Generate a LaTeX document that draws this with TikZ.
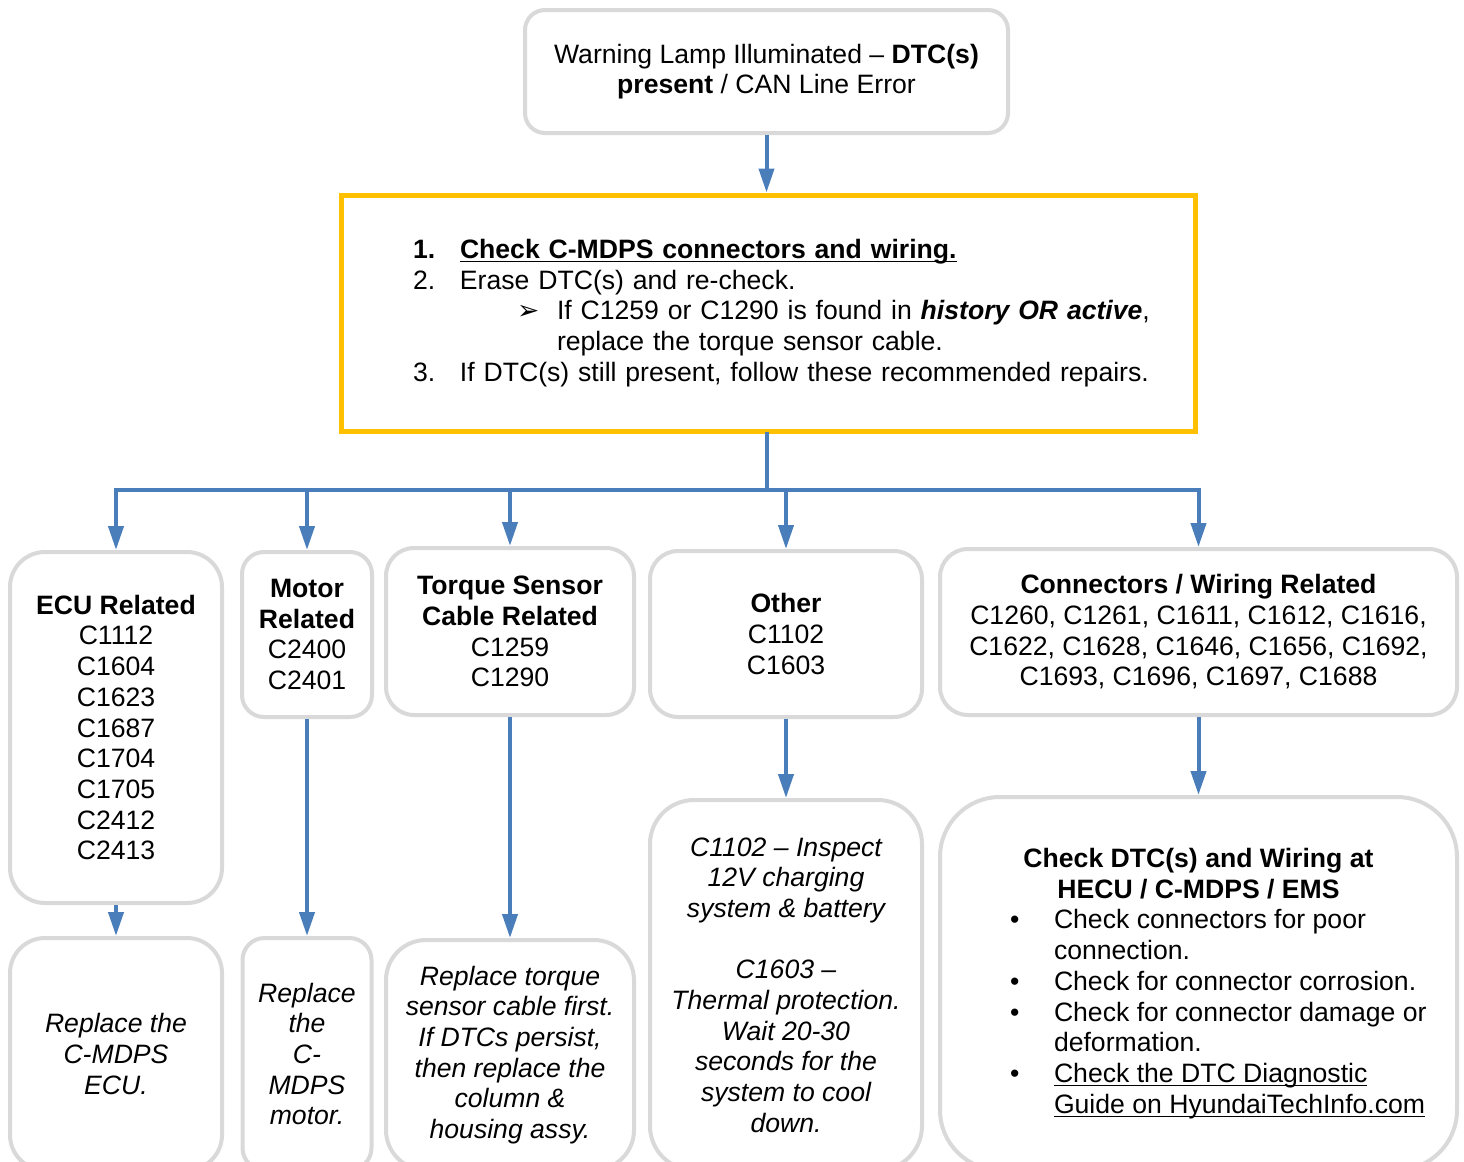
\documentclass[tikz,border=0pt]{standalone}
\usepackage{fontspec}
\setmainfont{Liberation Sans}
\newfontfamily\symfont{DejaVu Sans}
\usepackage{tikz}
\usetikzlibrary{positioning, arrows.meta}
\definecolor{box_gray}{RGB}{217,217,217}
\definecolor{lamp_yellow}{RGB}{255,192,0}
\definecolor{line_blue}{RGB}{74,126,187}
\newcommand\undl[1]{\setbox0\hbox{#1}\rlap{\rule[-2pt]{\wd0}{0.7pt}}\box0}
\tikzset{
  txt/.style={font=\fontsize{13.3}{15.35}\selectfont},
  graybox/.style={txt, draw=box_gray, line width=2pt, fill=white, align=center, inner sep=0pt},
  fixbox/.style={graybox, font=\fontsize{13.3}{15.35}\selectfont\itshape},
  stepsbox/.style={txt, draw=lamp_yellow, line width=2.5pt, fill=white, align=left, inner ysep=0pt},
  flow/.style={draw=line_blue, line width=2pt, -{Triangle[length=12pt,width=7.5pt]}},
  bus/.style={draw=line_blue, line width=2pt, line cap=rect}
}

\begin{document}
\begin{tikzpicture}[x=0.5pt, y=-0.5pt]
  \useasboundingbox (0,0) rectangle (1464,1162);
  % top of the chart
  \node[graybox, rounded corners=10pt, minimum width=241.5pt, minimum height=61.5pt] (lamp) at (766.5,71.5)
    {Warning Lamp Illuminated – \textbf{DTC(s)}\\\textbf{present} / CAN Line Error};
  \node[stepsbox, minimum height=118pt, text width=355pt, inner xsep=36pt] (steps) at (768,313)
    {\mbox{\makebox[23.5pt][l]{\textbf{1.}}\textbf{\undl{Check C-MDPS connectors and wiring.}}}\\
     \mbox{\makebox[23.5pt][l]{2.}Erase DTC(s) and re-check.}\\
     \mbox{\hspace*{52pt}\makebox[20pt][l]{\symfont ➢}If C1259 or C1290 is found in \textbf{\textit{history OR active}},}\\
     \mbox{\hspace*{72pt}replace the torque sensor cable.}\\
     \mbox{\makebox[23.5pt][l]{3.}If DTC(s) still present, follow these recommended repairs.}};
  % DTC groups
  \node[graybox, rounded corners=17.5pt, minimum width=106pt, minimum height=175.5pt] (ecu) at (116,727.5)
    {\textbf{ECU Related}\\C1112\\C1604\\C1623\\C1687\\C1704\\C1705\\C2412\\C2413};
  \node[graybox, rounded corners=11pt, minimum width=65pt, minimum height=82.5pt] (motor) at (307,634.5)
    {\textbf{Motor}\\\textbf{Related}\\C2400\\C2401};
  \node[graybox, rounded corners=14pt, minimum width=124pt, minimum height=83.5pt] (torque) at (510,631.5)
    {\textbf{Torque Sensor}\\\textbf{Cable Related}\\C1259\\C1290};
  \node[graybox, rounded corners=14pt, minimum width=136pt, minimum height=83pt] (other) at (786,634)
    {\textbf{Other}\\C1102\\C1603};
  \node[graybox, rounded corners=14pt, minimum width=258.5pt, minimum height=83pt] (conn) at (1198.5,632)
    {\textbf{Connectors / Wiring Related}\\C1260, C1261, C1611, C1612, C1616,\\C1622, C1628, C1646, C1656, C1692,\\C1693, C1696, C1697, C1688};
  % repairs
  \node[fixbox, rounded corners=17.5pt, minimum width=106pt, minimum height=116pt] (ecufix) at (116,1054)
    {Replace the\\C-MDPS\\ECU.};
  \node[fixbox, rounded corners=11pt, minimum width=64.5pt, minimum height=116pt] (motorfix) at (307,1054)
    {Replace\\the\\C-\\MDPS\\motor.};
  \node[fixbox, rounded corners=20pt, minimum width=124pt, minimum height=115pt] (torquefix) at (510,1055)
    {Replace torque\\sensor cable first.\\If DTCs persist,\\then replace the\\column \&\\housing assy.};
  \node[fixbox, rounded corners=22pt, minimum width=136pt, minimum height=185pt] (otherfix) at (786,985)
    {C1102 – Inspect\\12V charging\\system \& battery\\[15.35pt]
     C1603 –\\Thermal protection.\\Wait 20-30\\seconds for the\\system to cool\\down.};
  \node[graybox, rounded corners=30pt, minimum width=258.5pt, minimum height=186.5pt] (connfix) at (1198.5,983.5)
    {\textbf{Check DTC(s) and Wiring at}\\\textbf{HECU / C-MDPS / EMS}\\
     \makebox[188.5pt][l]{\makebox[22pt][l]{•}Check connectors for poor}\\
     \makebox[188.5pt][l]{\hspace*{22pt}connection.}\\
     \makebox[188.5pt][l]{\makebox[22pt][l]{•}Check for connector corrosion.}\\
     \makebox[188.5pt][l]{\makebox[22pt][l]{•}Check for connector damage or}\\
     \makebox[188.5pt][l]{\hspace*{22pt}deformation.}\\
     \makebox[188.5pt][l]{\makebox[22pt][l]{•}\undl{Check the DTC Diagnostic}}\\
     \makebox[188.5pt][l]{\hspace*{22pt}\undl{Guide on HyundaiTechInfo.com}}};
  % connectors
  \draw[flow] (lamp.south) -- (lamp.south |- steps.north);
  \coordinate (split) at (767,490);
  \draw[bus] (steps.south -| split) -- (split);
  \draw[bus] (ecu.north |- split) -- (conn.north |- split);
  \foreach \grp in {ecu, motor, torque, other, conn}
    \draw[flow] (\grp.north |- split) -- (\grp.north);
  \draw[flow] (ecu.south) -- (ecufix.north);
  \draw[flow] (motor.south) -- (motorfix.north);
  \draw[flow] (torque.south) -- (torquefix.north);
  \draw[flow] (other.south) -- (otherfix.north);
  \draw[flow] (conn.south) -- (connfix.north);
\end{tikzpicture}
\end{document}
